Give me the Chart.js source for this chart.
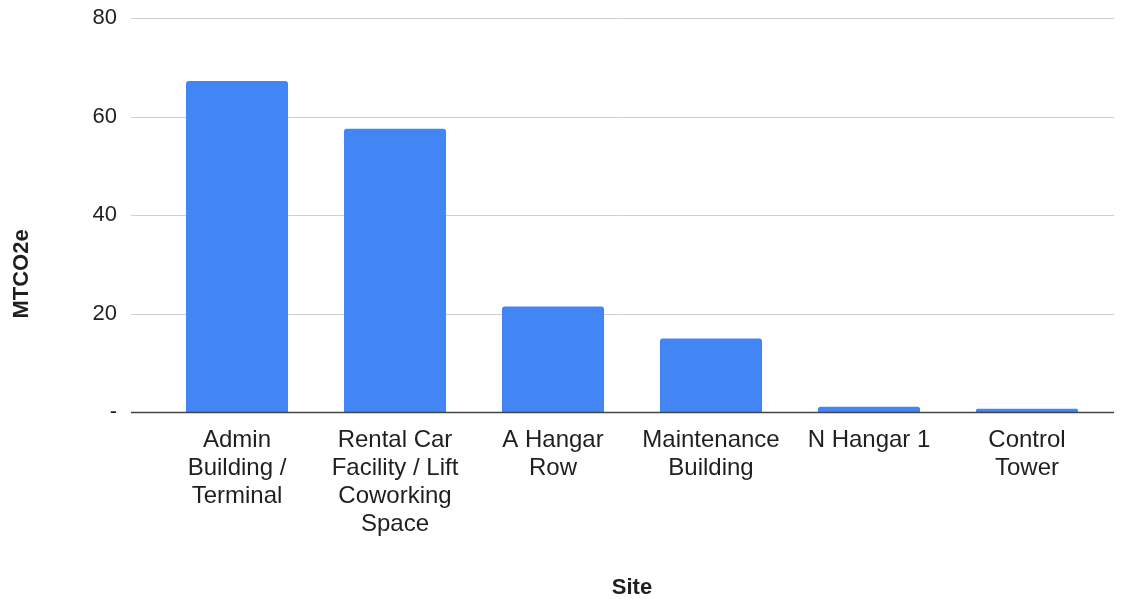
<!DOCTYPE html>
<html>
<head>
<meta charset="utf-8">
<script src="https://cdn.jsdelivr.net/npm/chart.js@4/dist/chart.umd.min.js"></script>
<style>
  html, body { margin: 0; padding: 0; background: #fff; }
  #wrap { width: 1128px; height: 599px; position: relative; }
</style>
</head>
<body>
<div id="wrap"><canvas id="chart"></canvas></div>
<script>
// Sites and their emissions (MTCO2e)
const sites = [
  ["Admin", "Building /", "Terminal"],
  ["Rental Car", "Facility / Lift", "Coworking", "Space"],
  ["A Hangar", "Row"],
  ["Maintenance", "Building"],
  ["N Hangar 1"],
  ["Control", "Tower"],
];
const emissions = [67.2, 57.5, 21.4, 14.9, 1.05, 0.65];
const yTicks = [0, 20, 40, 60, 80];

const FONT = "'Liberation Sans', Arial, sans-serif";
const TEXT = "#1f1f1f";

// gridlines stretch a little past the plot area, baseline drawn on top of bars
const gridPlugin = {
  id: "wideGrid",
  beforeDatasetsDraw(chart) {
    const { ctx, chartArea, scales } = chart;
    ctx.save();
    ctx.strokeStyle = "#d0d0d0";
    ctx.lineWidth = 1;
    yTicks.forEach((v) => {
      if (v === 0) return;
      const y = Math.round(scales.y.getPixelForValue(v)) + 0.5;
      ctx.beginPath();
      ctx.moveTo(chartArea.left - 27, y);
      ctx.lineTo(chartArea.right + 8, y);
      ctx.stroke();
    });
    ctx.restore();
  },
  afterDatasetsDraw(chart) {
    const { ctx, chartArea, scales } = chart;
    const y = Math.round(scales.y.getPixelForValue(0)) + 0.5;
    ctx.save();
    ctx.strokeStyle = "#444444";
    ctx.lineWidth = 1.5;
    ctx.beginPath();
    ctx.moveTo(chartArea.left - 27, y);
    ctx.lineTo(chartArea.right + 8, y);
    ctx.stroke();

    // vertical axis title
    ctx.translate(22, 274);
    ctx.rotate(-Math.PI / 2);
    ctx.fillStyle = TEXT;
    ctx.font = "bold 22px " + FONT;
    ctx.textAlign = "center";
    ctx.textBaseline = "middle";
    ctx.fillText("MTCO2e", 0, 0);
    ctx.restore();
  },
};

new Chart(document.getElementById("chart"), {
  type: "bar",
  data: {
    labels: sites,
    datasets: [
      {
        label: "MTCO2e",
        data: emissions,
        backgroundColor: "#4285f4",
        borderRadius: 3,
        barPercentage: 0.646,
        categoryPercentage: 1,
      },
    ],
  },
  options: {
    responsive: true,
    maintainAspectRatio: false,
    animation: false,
    layout: { padding: { top: 18, right: 22, bottom: 0, left: 0 } },
    plugins: {
      legend: { display: false },
      tooltip: { enabled: false },
    },
    scales: {
      x: {
        grid: { display: false },
        border: { display: false },
        afterFit: (scale) => {
          scale.height = 187;
          scale.paddingLeft = 0;
          scale.paddingRight = 0;
        },
        ticks: {
          color: TEXT,
          autoSkip: false,
          maxRotation: 0,
          padding: 6,
          font: { size: 24, family: FONT, lineHeight: 1.167 },
        },
        title: {
          display: true,
          text: "Site",
          color: TEXT,
          padding: { top: 0, bottom: -2 },
          font: { size: 22, weight: "bold", family: FONT },
        },
      },
      y: {
        min: 0,
        max: 80,
        grid: { display: false },
        border: { display: false },
        afterFit: (scale) => {
          scale.width = 158;
          scale.paddingTop = 0;
          scale.paddingBottom = 0;
        },
        afterBuildTicks: (scale) => {
          scale.ticks = yTicks.map((v) => ({ value: v }));
        },
        ticks: {
          color: TEXT,
          padding: 33,
          font: { size: 22, family: FONT },
          callback: (v) => (v === 0 ? "-" : v),
        },
      },
    },
  },
  plugins: [gridPlugin],
});
</script>
</body>
</html>
